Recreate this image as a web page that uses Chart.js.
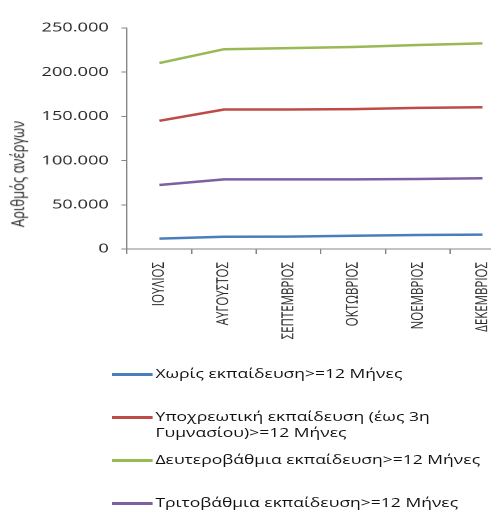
<!DOCTYPE html>
<html><head><meta charset="utf-8">
<script src="https://cdn.jsdelivr.net/npm/chart.js@4"></script>
<style>
html,body{margin:0;padding:0;background:#fff;overflow:hidden;width:491px;height:512px;}
#stage{position:absolute;left:0;top:0;width:369px;height:512px;transform:scaleX(1.4);transform-origin:0 0;font-family:"Open Sans",sans-serif;}
#wrap{position:absolute;left:0;top:0;width:369px;height:360px;}
#ytitle{position:absolute;left:12px;top:174px;transform:translate(-50%,-50%) rotate(-90deg);white-space:nowrap;font-size:13px;line-height:14px;color:#262626;}
.lgline{position:absolute;left:80px;width:29px;height:3px;}
.lgtext{position:absolute;left:111px;font-size:12.5px;line-height:16.5px;color:#111;white-space:nowrap;}
</style></head><body>
<div id="stage">
  <div id="wrap"><canvas id="c"></canvas></div>
  <div id="ytitle"></div>
  <div id="legend"></div>
</div>
<script>
// ---- data ----
const categories = ['ΙΟΥΛΙΟΣ','ΑΥΓΟΥΣΤΟΣ','ΣΕΠΤΕΜΒΡΙΟΣ','ΟΚΤΩΒΡΙΟΣ','ΝΟΕΜΒΡΙΟΣ','ΔΕΚΕΜΒΡΙΟΣ'];
const noEducation   = [11700, 13900, 14000, 15000, 15800, 16200];
const compulsory    = [145000, 157800, 157800, 158300, 159700, 160300];
const secondary     = [210300, 226000, 227300, 228500, 230700, 232600];
const tertiary      = [72400, 78800, 78800, 78800, 79200, 80000];
const seriesLabels  = [
  ['Χωρίς εκπαίδευση>=12 Μήνες'],
  ['Υποχρεωτική εκπαίδευση (έως 3η', 'Γυμνασίου)>=12 Μήνες'],
  ['Δευτεροβάθμια εκπαίδευση>=12 Μήνες'],
  ['Τριτοβάθμια εκπαίδευση>=12 Μήνες']
];
const yTickValues = [0, 50000, 100000, 150000, 200000, 250000];
const yTitle = 'Αριθμός ανέργων';

// ---- style ----
const seriesData = [noEducation, compulsory, secondary, tertiary];
const colors = ['#4A7EBB', '#BE4B48', '#98B954', '#7D60A0'];
const legendY = [374, 417, 460, 503];
const axisColor = '#868686';
const textColor = '#262626';

function fmt(v){ return Number(v).toLocaleString('en-US').replace(/,/g, '.'); }

document.getElementById('ytitle').textContent = yTitle;
const lg = document.getElementById('legend');
seriesLabels.forEach((lines, i) => {
  const ln = document.createElement('div');
  ln.className = 'lgline';
  ln.style.top = (legendY[i] - 1.5) + 'px';
  ln.style.background = colors[i];
  lg.appendChild(ln);
  const tx = document.createElement('div');
  tx.className = 'lgtext';
  tx.style.top = (legendY[i] - 8.25) + 'px';
  lines.forEach((t, j) => { if (j) tx.appendChild(document.createElement('br')); tx.appendChild(document.createTextNode(t)); });
  lg.appendChild(tx);
});

new Chart(document.getElementById('c'), {
  type: 'line',
  data: {
    labels: categories,
    datasets: seriesData.map((d, i) => ({
      label: seriesLabels[i].join(' '),
      data: d,
      borderColor: colors[i],
      backgroundColor: colors[i],
      borderWidth: 2.5,
      pointRadius: 0,
      tension: 0,
      fill: false
    }))
  },
  options: {
    responsive: true,
    maintainAspectRatio: false,
    animation: false,
    devicePixelRatio: 2,
    layout: { padding: { top: 28, left: 0, right: 0, bottom: 0 } },
    plugins: { legend: { display: false }, tooltip: { enabled: false } },
    scales: {
      x: {
        offset: true,
        grid: { offset: true, drawOnChartArea: false, tickLength: 5, color: axisColor },
        border: { color: axisColor },
        ticks: { minRotation: 90, maxRotation: 90, autoSkip: false, padding: 8,
                 font: { family: 'Open Sans', size: 11.5 }, color: textColor },
        afterFit(s) { s.height = 111; }
      },
      y: {
        min: 0, max: 250000,
        grid: { drawOnChartArea: false, tickLength: 4, color: axisColor },
        border: { color: axisColor },
        afterBuildTicks(s) { s.ticks = yTickValues.map(v => ({ value: v })); },
        ticks: { padding: 9, font: { family: 'Open Sans', size: 13 }, color: textColor,
                 callback: v => fmt(v) },
        afterFit(s) { s.width = 90.7; }
      }
    }
  }
});
</script>
</body></html>
